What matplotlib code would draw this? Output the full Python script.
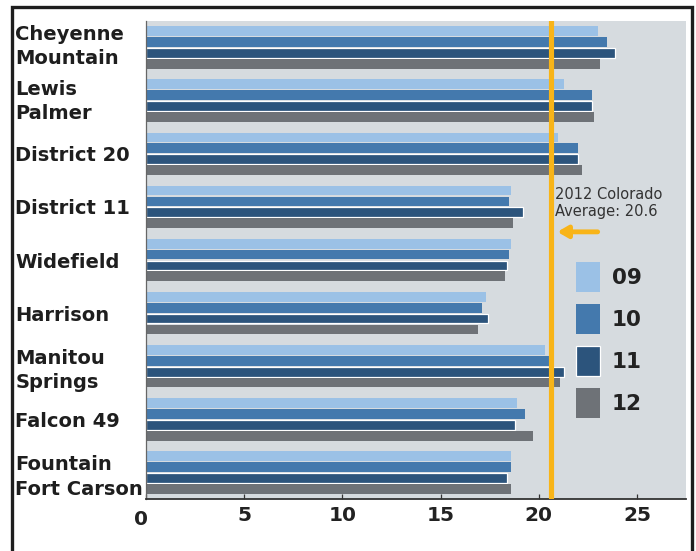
import matplotlib

matplotlib.use("Agg")
import matplotlib.pyplot as plt
import matplotlib.transforms as mtransforms
import numpy as np
from matplotlib.patches import Rectangle

# values (score per district, per year)
districts = [
    "Cheyenne\nMountain",
    "Lewis\nPalmer",
    "District 20",
    "District 11",
    "Widefield",
    "Harrison",
    "Manitou\nSprings",
    "Falcon 49",
    "Fountain\nFort Carson",
]
years = ["09", "10", "11", "12"]
scores_09 = [23.0, 21.3, 21.0, 18.6, 18.6, 17.3, 20.3, 18.9, 18.6]
scores_10 = [23.5, 22.7, 22.0, 18.5, 18.5, 17.1, 20.7, 19.3, 18.6]
scores_11 = [23.9, 22.7, 22.0, 19.2, 18.4, 17.4, 21.3, 18.8, 18.4]
scores_12 = [23.1, 22.8, 22.2, 18.7, 18.3, 16.9, 21.1, 19.7, 18.6]
state_average = 20.6
x_ticks = [0, 5, 10, 15, 20, 25]

colors = ["#9bc1e6", "#4479ad", "#2c547c", "#6e7277"]
edges = ["none", "none", "white", "none"]
ORANGE = "#f8b418"
PANEL = "#d6dbdf"


def shift(fig, label, dx_px: float, dy_px: float) -> None:
    """Nudges a tick label by a few pixels."""
    label.set_transform(label.get_transform()
                        + mtransforms.ScaledTranslation(dx_px / 100, dy_px / 100,
                                                        fig.dpi_scale_trans))


def create_chart(output_path: str = "out.png") -> None:
    """Draws the grouped horizontal bar chart and saves it."""
    fig = plt.figure(figsize=(6.96, 5.51), dpi=100)
    ax = fig.add_axes([146 / 696, 1 - 499 / 551, 540 / 696, 478 / 551])
    ax.set_facecolor(PANEL)

    series = [scores_09, scores_10, scores_11, scores_12]
    pitch = 0.205
    height = 0.185
    y = np.arange(len(districts))
    for j, (vals, col, ec) in enumerate(zip(series, colors, edges)):
        ax.barh(y + (j - 1.5) * pitch, vals, height=height, color=col,
                edgecolor=ec, linewidth=0.9 if ec != "none" else 0,
                label=years[j], zorder=2)

    ax.axvline(state_average, color=ORANGE, lw=3.7, zorder=3)

    ax.set_xlim(0, 27.5)
    ax.set_ylim(len(districts) - 0.5, -0.5)
    ax.set_xticks(x_ticks)
    ax.set_xticklabels([str(t) for t in x_ticks], fontsize=14.5, fontweight="bold",
                       color="#222222")
    ax.tick_params(axis="x", direction="in", length=3.8, width=0.9, color="#333333", pad=5)
    # the "0" sits a little lower and to the left in the original
    shift(fig, ax.get_xticklabels()[0], -5, -4)

    ax.set_yticks(y)
    ax.set_yticklabels(districts, fontsize=14, fontweight="bold", color="#1e1e1e",
                       ha="left", linespacing=1.35)
    ax.tick_params(axis="y", length=0, pad=94)
    ylabels = ax.get_yticklabels()
    shift(fig, ylabels[0], 0, 6)
    shift(fig, ylabels[1], 0, 4)

    for side in ["top", "right"]:
        ax.spines[side].set_visible(False)
    ax.spines["left"].set_color("#666666")
    ax.spines["left"].set_linewidth(0.9)
    ax.spines["bottom"].set_color("#333333")
    ax.spines["bottom"].set_linewidth(1.3)

    ax.text(20.82, 2.63, "2012 Colorado\nAverage: 20.6", fontsize=10.5,
            color="#333333", va="top", ha="left", linespacing=1.15, zorder=4)
    ax.annotate("", xy=(20.95, 3.47), xytext=(23.0, 3.47),
                arrowprops=dict(arrowstyle="-|>,head_length=0.6,head_width=0.35",
                                color=ORANGE, lw=3.5, shrinkA=0, shrinkB=0), zorder=4)

    ax.legend(loc="upper left", bbox_to_anchor=(576 / 696, 1 - 262 / 551),
              bbox_transform=fig.transFigure, frameon=False,
              prop={"size": 15.5, "weight": "bold"}, handlelength=1.12,
              handleheight=1.77, labelspacing=0.56, handletextpad=0.55,
              borderpad=0, borderaxespad=0, labelcolor="#222222")

    frame = Rectangle((12 / 696, -0.05), 680 / 696, 1.05 - 7 / 551,
                      transform=fig.transFigure, fill=False, lw=2.4,
                      edgecolor="#1e1e1e", clip_on=False)
    fig.patches.append(frame)

    fig.savefig(output_path, dpi=100)


if __name__ == "__main__":
    create_chart()
